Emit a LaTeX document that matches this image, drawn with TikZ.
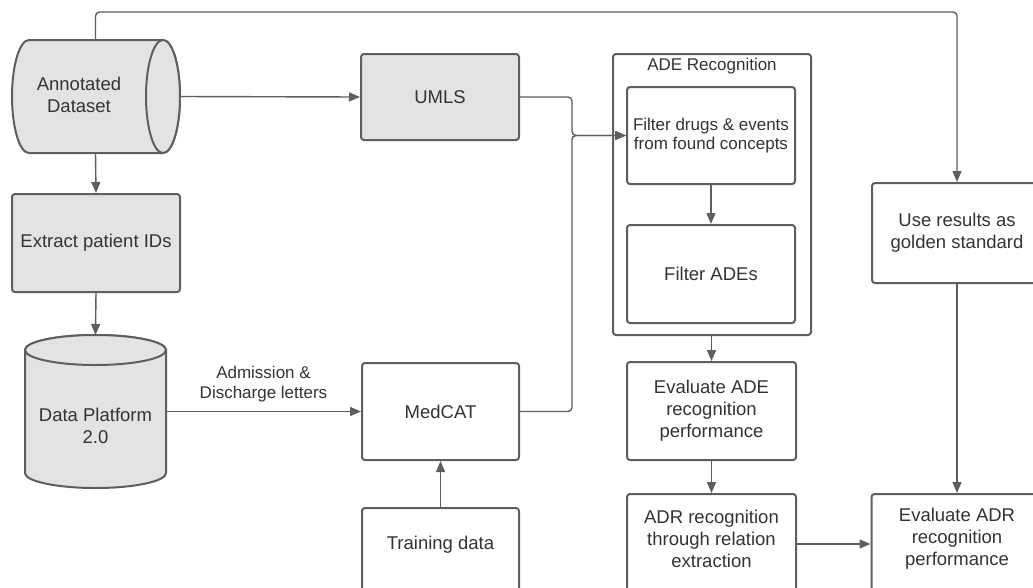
\documentclass[tikz,border=0pt]{standalone}
\usepackage{fontspec}
\setmainfont{Liberation Sans}
\usetikzlibrary{arrows.meta}
\definecolor{edge}{HTML}{5E5E5E}
\definecolor{shade}{HTML}{E3E3E3}
\definecolor{ink}{HTML}{333333}

\begin{document}
\begin{tikzpicture}[x=1pt,y=-1pt,
  big/.style={font=\fontsize{18.5}{22}\selectfont},
  small/.style={font=\fontsize{17}{19.5}\selectfont},
  box/.style={draw=edge, line width=2pt, rounded corners=3pt, inner sep=0pt,
              text=ink, align=center, big},
  greybox/.style={box, fill=shade},
  txt/.style={text=ink, align=center, inner sep=0pt, big},
  conn/.style={draw=edge, line width=1.4pt, rounded corners=4pt,
               -{Triangle[length=11pt,width=9pt]}},
  tank/.style={draw=edge, fill=shade, line width=2pt},
]
\useasboundingbox (0,0) rectangle (1033,587);
\fill[white] (0,0) rectangle (1033,587);
\clip (0,0) rectangle (1033,587);

% ---- horizontal data store: Annotated Dataset
\path[tank] (29,40) -- (163,40)
  arc[start angle=-90, end angle=90, x radius=17, y radius=56.5]
  -- (29,153)
  arc[start angle=90, end angle=270, x radius=17, y radius=56.5] -- cycle;
\path[tank] (163,96.5) ellipse[x radius=17, y radius=56.5];
\node[txt] (annot) at (79,95) {Annotated\\Dataset};
\coordinate (annotN) at (95.5,40);
\coordinate (annotS) at (95.5,153);
\coordinate (annotE) at (180,96.5);

% ---- vertical data store: Data Platform 2.0
\path[tank] (25,350) -- (25,473)
  arc[start angle=180, end angle=0, x radius=70.5, y radius=15]
  -- (166,350)
  arc[start angle=0, end angle=-180, x radius=70.5, y radius=15] -- cycle;
\path[tank] (95.5,350) ellipse[x radius=70.5, y radius=15];
\node[txt] (dp) at (95.5,426) {Data Platform\\2.0};
\coordinate (dpN) at (95.5,335);
\coordinate (dpE) at (166,411.5);

% ---- left column and middle column
\node[greybox, minimum width=168, minimum height=98] (extract) at (96,243) {Extract patient IDs};
\node[greybox, minimum width=158, minimum height=86] (umls) at (440,97) {UMLS};
\node[box, minimum width=157, minimum height=97] (medcat) at (440.5,411.5) {MedCAT};
\node[box, minimum width=157, minimum height=100, anchor=north] (train) at (440.5,507) {};
\node[txt] (traint) at (440.5,545) {Training data};

% ---- ADE recognition group
\node[box, minimum width=198, minimum height=281] (ade) at (712,194.5) {};
\node[txt, small] (adet) at (712,66) {ADE Recognition};
\node[box, small, minimum width=168, minimum height=97] (filt) at (711,135.5) {Filter drugs \& events\\from found concepts};
\node[box, minimum width=168, minimum height=98] (fade) at (711,274) {Filter ADEs};

% ---- evaluation chain
\node[box, minimum width=169, minimum height=98] (evade) at (711.5,411) {Evaluate ADE\\recognition\\performance};
\node[box, minimum width=169, minimum height=100, anchor=north] (adr) at (711.5,493) {};
\node[txt] (adrt) at (711.5,539) {ADR recognition\\through relation\\extraction};
\node[box, minimum width=171, minimum height=100, anchor=north] (evadr) at (957,493) {};
\node[txt] (evadrt) at (957,539) {Evaluate ADR\\recognition\\performance};
\node[box, minimum width=170, minimum height=100] (useres) at (957,233) {Use results as\\golden standard};

% ---- connectors
\coordinate (bus) at (572,0);
\draw[conn] (annotN) -- ++(0,-28) -| (useres.north);
\draw[conn] (annotE) -- (umls.west);
\draw[conn] (annotS) -- (extract.north);
\draw[conn] (extract.south) -- (dpN);
\draw[conn] (dpE) -- node[txt, small, above=9pt] (letters) {Admission \&\\Discharge letters} (medcat.west);
\draw[conn] (train.north) -- (medcat.south);
\draw[conn] (umls.east) -| (bus |- filt.west) -- (filt.west);
\draw[conn] (medcat.east) -| (bus |- filt.west) -- (filt.west);
\draw[conn] (filt.south) -- (fade.north);
\draw[conn] (ade.south -| evade.north) -- (evade.north);
\draw[conn] (evade.south) -- (adr.north);
\draw[conn] (adr.east) -- (evadr.west);
\draw[conn] (useres.south) -- (evadr.north);
\end{tikzpicture}
\end{document}
